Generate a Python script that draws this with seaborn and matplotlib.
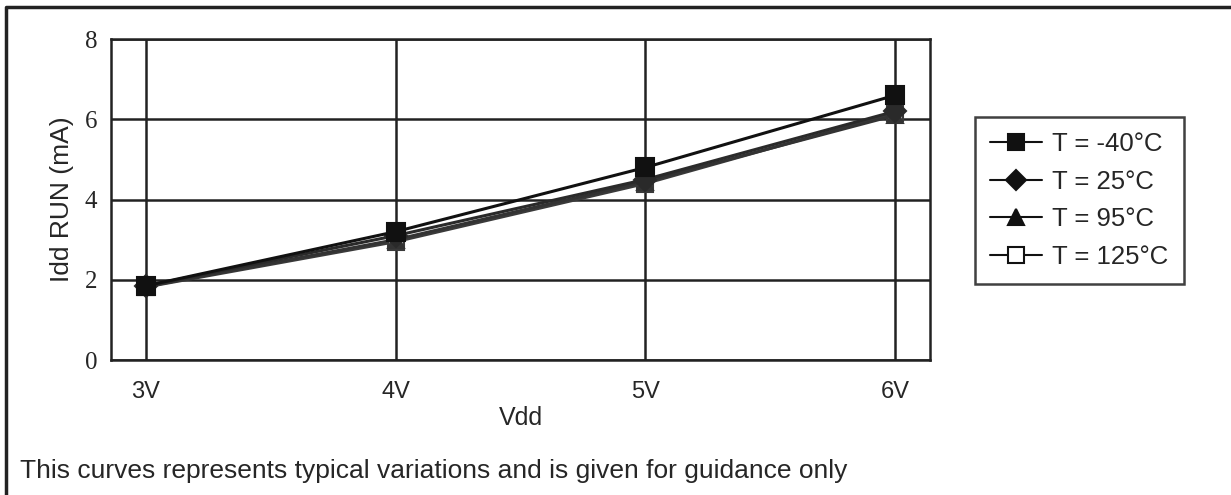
import numpy as np
import pandas as pd
import matplotlib
matplotlib.use("Agg")
import matplotlib.pyplot as plt
from matplotlib.lines import Line2D
import seaborn as sns

categories = ["3V", "4V", "5V", "6V"]
t_m40 = [1.85, 3.20, 4.80, 6.60]
t_25 = [1.85, 3.10, 4.50, 6.20]
t_95 = [1.83, 3.00, 4.45, 6.10]
t_125 = [1.82, 2.95, 4.40, 6.15]
series_labels = ["T = -40°C", "T = 25°C", "T = 95°C", "T = 125°C"]
y_ticks = [0, 2, 4, 6, 8]

sns.set_style("white")
plt.rcParams['font.family'] = ['Liberation Sans', 'DejaVu Sans']

fig = plt.figure(figsize=(12.31, 4.95), dpi=100)
ax = fig.add_axes([0.0902, 0.2727, 0.7555 - 0.0902, 0.921 - 0.2727])

xpos = np.arange(len(categories))
series = [t_m40, t_25, t_95, t_125]
markers = ["s", "D", "^", "s"]
colors = ["#111111", "#2a2a2a", "#333333", "#3a3a3a"]
mfc = ["#111111", "#2a2a2a", "#333333", "white"]
msz = [13, 11, 12, 12]

for i in [3, 2, 1, 0]:
    df = pd.DataFrame({"x": xpos, "y": series[i]})
    sns.lineplot(data=df, x="x", y="y", ax=ax, color=colors[i], lw=2.2,
                 marker=markers[i], markersize=msz[i], markerfacecolor=mfc[i],
                 markeredgecolor=colors[i], markeredgewidth=1.5, legend=False, zorder=3 + (3 - i))

ax.set_xlim(-0.14, 3.14)
ax.set_ylim(0, 8)
ax.set_xticks(xpos)
ax.set_xticklabels(categories, fontsize=17)
ax.set_yticks(y_ticks)
ax.set_yticklabels([str(v) for v in y_ticks], fontsize=18, family="Liberation Serif")
ax.tick_params(axis="x", length=0, pad=15)
ax.tick_params(axis="y", length=0, pad=10)
ax.grid(True, color="#222222", lw=1.8)
for s in ax.spines.values():
    s.set_color("#222222")
    s.set_linewidth(1.8)
ax.set_xlabel("Vdd", fontsize=18, labelpad=2)
ax.set_ylabel("Idd RUN (mA)", fontsize=19, labelpad=8)

handles = []
for i in range(4):
    handles.append(Line2D([0], [0], color="#111111", lw=1.5, marker=markers[i],
                          markersize=11 if i != 1 else 10, markerfacecolor="#111111" if i != 3 else "white",
                          markeredgecolor="#111111", markeredgewidth=1.5))
leg = fig.legend(handles, series_labels, loc="upper left",
                 bbox_to_anchor=(975 / 1231, 1 - 117 / 495), fontsize=18.5,
                 frameon=True, fancybox=False, edgecolor="#111111",
                 handlelength=2.0, handletextpad=0.4, labelspacing=0.52,
                 borderpad=0.6, borderaxespad=0)
leg.get_frame().set_linewidth(1.8)

fig.text(20 / 1231, 1 - 471 / 495, "This curves represents typical variations and is given for guidance only",
         fontsize=19, va="center", ha="left")

fig.add_artist(Line2D([6 / 1231, 6 / 1231, 1.0], [0.0, 1 - 6.5 / 495, 1 - 6.5 / 495],
                      transform=fig.transFigure, color="#222222", lw=2.5))

fig.savefig("out.png", dpi=100)
